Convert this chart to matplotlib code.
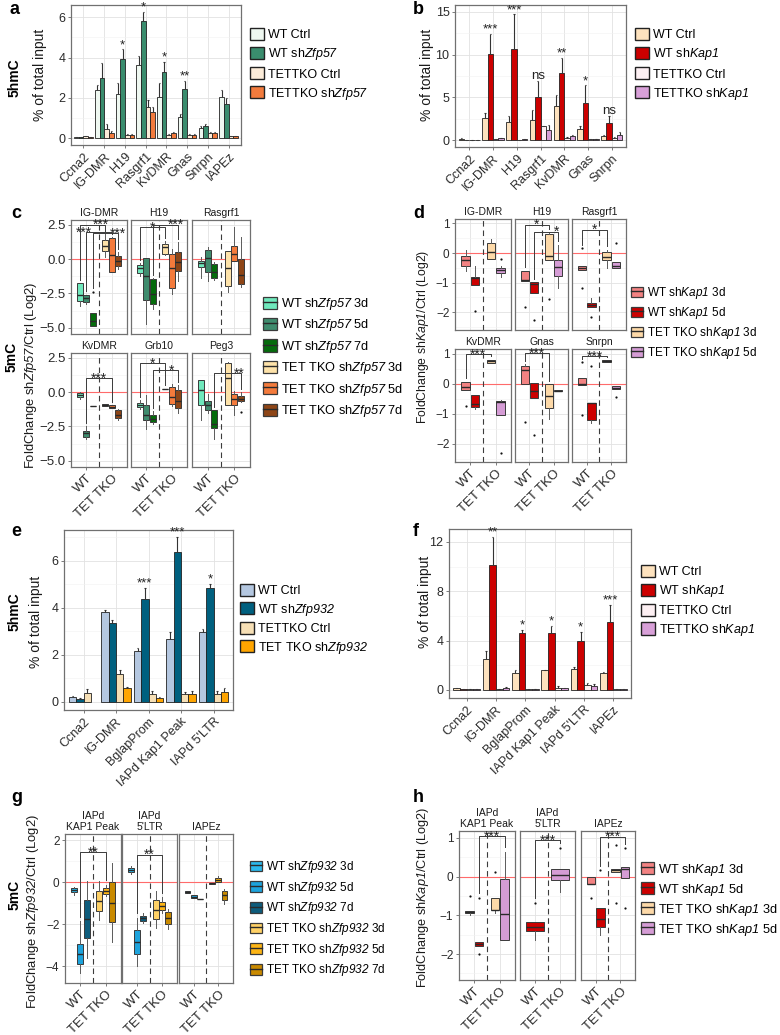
import numpy as np
import matplotlib
matplotlib.use("Agg")
import matplotlib.pyplot as plt
from matplotlib.patches import Patch
from matplotlib.lines import Line2D
from matplotlib.ticker import MultipleLocator, NullLocator

plt.rcParams['font.family'] = ['Liberation Sans', 'DejaVu Sans']
plt.rcParams['mathtext.fontset'] = 'custom'
plt.rcParams['mathtext.rm'] = 'Liberation Sans'
plt.rcParams['mathtext.it'] = 'Liberation Sans:italic'
plt.rcParams['mathtext.sf'] = 'Liberation Sans:italic'
plt.rcParams['mathtext.bf'] = 'Liberation Sans:bold'

# ======================= DATA =======================
# ---- panel a (5hmC, Zfp57) ----
a_cats = ["Ccna2", "IG-DMR", "H19", "Rasgrf1", "KvDMR", "Gnas", "Snrpn", "IAPEz"]
a_labels = ["WT Ctrl", r"WT sh$\mathsf{Zfp57}$", "TETTKO Ctrl", r"TETTKO sh$\mathsf{Zfp57}$"]
a_wt_ctrl = [0.05, 2.40, 2.20, 3.65, 2.05, 1.05, 0.50, 2.05]
a_wt_sh = [0.05, 3.00, 3.95, 5.80, 3.30, 2.45, 0.60, 1.70]
a_tko_ctrl = [0.10, 0.45, 0.15, 1.55, 0.15, 0.15, 0.25, 0.10]
a_tko_sh = [0.05, 0.25, 0.15, 1.30, 0.25, 0.15, 0.25, 0.10]
a_err_wt_ctrl = [0.02, 0.25, 0.55, 0.45, 0.70, 0.15, 0.10, 0.35]
a_err_wt_sh = [0.02, 0.75, 0.45, 0.45, 0.50, 0.40, 0.10, 0.30]
a_err_tko_ctrl = [0.02, 0.25, 0.05, 0.35, 0.05, 0.05, 0.05, 0.02]
a_err_tko_sh = [0.02, 0.10, 0.05, 0.25, 0.05, 0.05, 0.05, 0.03]
a_stars = ["", "", "*", "*", "*", "**", "", ""]

# ---- panel b (5hmC, Kap1) ----
b_cats = ["Ccna2", "IG-DMR", "H19", "Rasgrf1", "KvDMR", "Gnas", "Snrpn"]
b_labels = ["WT Ctrl", r"WT sh$\mathsf{Kap1}$", "TETTKO Ctrl", r"TETTKO sh$\mathsf{Kap1}$"]
b_wt_ctrl = [0.15, 2.60, 2.10, 2.35, 3.95, 1.30, 0.45]
b_wt_sh = [0.05, 10.10, 10.70, 5.05, 7.80, 4.35, 2.05]
b_tko_ctrl = [0.05, 0.10, 0.05, 1.60, 0.25, 0.10, 0.30]
b_tko_sh = [0.05, 0.20, 0.10, 1.15, 0.45, 0.10, 0.60]
b_err_wt_ctrl = [0.05, 0.55, 0.70, 1.20, 1.30, 0.35, 0.20]
b_err_wt_sh = [0.02, 2.35, 4.00, 1.90, 1.80, 2.05, 0.80]
b_err_tko_ctrl = [0.02, 0.02, 0.02, 0.10, 0.10, 0.02, 0.10]
b_err_tko_sh = [0.02, 0.05, 0.02, 0.60, 0.15, 0.05, 0.40]
b_stars = ["", "***", "***", "ns", "**", "*", "ns"]

# ---- panel e (5hmC, Zfp932) ----
e_cats = ["Ccna2", "IG-DMR", "BglapProm", "IAPd Kap1 Peak", "IAPd 5'LTR"]
e_labels = ["WT Ctrl", r"WT sh$\mathsf{Zfp932}$", "TETTKO Ctrl", r"TET TKO sh$\mathsf{Zfp932}$"]
e_wt_ctrl = [0.20, 3.82, 2.15, 2.65, 2.95]
e_wt_sh = [0.12, 3.35, 4.35, 6.35, 4.82]
e_tko_ctrl = [0.38, 1.20, 0.32, 0.32, 0.35]
e_tko_sh = [np.nan, 0.60, 0.18, 0.35, 0.42]
e_err_wt_ctrl = [0.03, 0.10, 0.15, 0.30, 0.15]
e_err_wt_sh = [0.02, 0.12, 0.50, 0.65, 0.18]
e_err_tko_ctrl = [0.18, 0.15, 0.12, 0.10, 0.10]
e_err_tko_sh = [np.nan, 0.03, 0.03, 0.12, 0.15]
e_stars = ["", "", "***", "***", "*"]

# ---- panel f (5hmC, Kap1) ----
f_cats = ["Ccna2", "IG-DMR", "BglapProm", "IAPd Kap1 Peak", "IAPd 5'LTR", "IAPEz"]
f_labels = b_labels
f_wt_ctrl = [0.15, 2.55, 1.35, 1.60, 1.70, 1.35]
f_wt_sh = [0.10, 10.10, 4.65, 4.65, 4.00, 5.50]
f_tko_ctrl = [0.05, 0.10, 0.05, 0.20, 0.40, 0.05]
f_tko_sh = [0.05, 0.20, 0.05, 0.15, 0.35, 0.05]
f_err_wt_ctrl = [0.05, 0.60, 0.30, 0.02, 0.15, 0.10]
f_err_wt_sh = [0.02, 2.30, 0.20, 0.55, 0.70, 1.40]
f_err_tko_ctrl = [0.02, 0.02, 0.02, 0.10, 0.20, 0.02]
f_err_tko_sh = [0.02, 0.05, 0.02, 0.02, 0.10, 0.02]
f_stars = ["", "**", "*", "*", "*", "***"]

# ---- panel c (5mC boxplots, Zfp57) ; groups: WT 3d,5d,7d, TKO 3d,5d,7d ----
c_facets = ["IG-DMR", "H19", "Rasgrf1", "KvDMR", "Grb10", "Peg3"]
c_labels = [r"WT sh$\mathsf{Zfp57}$ 3d", r"WT sh$\mathsf{Zfp57}$ 5d", r"WT sh$\mathsf{Zfp57}$ 7d",
            r"TET TKO sh$\mathsf{Zfp57}$ 3d", r"TET TKO sh$\mathsf{Zfp57}$ 5d", r"TET TKO sh$\mathsf{Zfp57}$ 7d"]
c_q1 = [[-3.05, -3.10, -4.88, 0.61, -0.90, -0.49],
        [-1.02, -2.97, -3.29, 0.41, -2.07, -0.85],
        [-0.56, -0.93, -1.34, -1.95, -0.12, -1.83],
        [-0.37, -3.23, -1.00, -1.00, -1.14, -1.87],
        [-1.09, -2.01, -2.18, 0.22, -0.85, -1.14],
        [-0.97, -1.29, -2.60, -0.97, -0.90, -0.68]]
c_med = [[-2.63, -2.80, -4.50, 0.93, 0.32, -0.12],
         [-0.68, -1.22, -2.56, 0.85, -0.66, -0.24],
         [-0.29, 0.05, -0.93, -0.68, 0.37, -1.17],
         [-0.19, -3.00, -1.00, -0.90, -1.05, -1.63],
         [-0.92, -1.63, -1.94, 0.24, -0.36, -0.66],
         [0.12, -0.92, -2.30, 1.04, -0.49, -0.49]]
c_q3 = [[-1.75, -2.63, -3.95, 1.39, 1.54, 0.20],
        [-0.41, 0.05, -1.46, 1.10, 0.37, 0.54],
        [-0.12, 0.66, -0.32, 0.56, 0.98, 0.00],
        [-0.07, -2.80, -1.00, -0.85, -0.97, -1.33],
        [-0.80, -0.97, -1.70, 0.26, 0.41, 0.12],
        [0.85, -0.61, -1.33, 2.11, -0.17, -0.27]]
c_lo = [[-3.40, -3.30, -4.88, 0.12, -0.90, -0.73],
        [-1.20, -4.75, -3.60, 0.30, -2.56, -1.59],
        [-1.34, -1.59, -1.50, -2.39, -0.12, -2.00],
        [-0.50, -3.40, -1.00, -1.00, -1.14, -2.00],
        [-1.20, -2.67, -2.30, 0.22, -1.00, -1.50],
        [-2.06, -1.50, -3.40, -0.97, -1.70, -0.70]]
c_hi = [[-1.75, -2.60, -3.95, 1.83, 1.60, 0.49],
        [-0.30, 0.05, -1.40, 1.30, 0.73, 1.22],
        [0.17, 0.85, -0.20, 0.56, 2.32, 1.59],
        [0.00, -2.50, -1.00, -0.85, -0.97, -1.20],
        [-0.60, -0.24, -1.40, 0.26, 0.60, 0.50],
        [0.85, -0.17, -1.33, 2.20, 0.10, 0.00]]
c_outliers = [(0, 2, -2.37), (5, 5, -1.46)]
# (facet, group from, group to, height, label, label position along bracket)
c_brackets = [(0, 0, 3, 2.50, "***", 0.82), (0, 1, 4, 1.98, "***", -0.1), (0, 2, 5, 1.90, "***", 1.0),
              (1, 0, 3, 2.33, "*", 0.5), (1, 2, 5, 2.50, "***", 0.9), (3, 1, 4, 1.04, "***", 0.5),
              (4, 0, 3, 2.10, "*", 0.5), (4, 2, 5, 1.60, "*", 0.75), (5, 2, 5, 1.40, "**", 0.95)]

# ---- panel d (5mC boxplots, Kap1) ; groups: WT 3d,5d, TKO 3d,5d ----
d_facets = ["IG-DMR", "H19", "Rasgrf1", "KvDMR", "Gnas", "Snrpn"]
d_labels = [r"WT sh$\mathsf{Kap1}$ 3d", r"WT sh$\mathsf{Kap1}$ 5d",
            r"TET TKO sh$\mathsf{Kap1}$ 3d", r"TET TKO sh$\mathsf{Kap1}$ 5d"]
d_q1 = [[-0.43, -1.08, -0.20, -0.68], [-0.94, -1.34, -0.23, -0.76], [-0.57, -1.83, -0.25, -0.51],
        [-0.22, -0.78, 0.68, -1.04], [-0.02, -0.48, -0.82, -0.25], [-0.05, -1.21, 0.73, -0.19]]
d_med = [[-0.25, -0.85, 0.03, -0.57], [-0.91, -1.05, -0.09, -0.48], [-0.51, -1.76, -0.14, -0.43],
         [-0.11, -0.67, 0.75, -0.60], [0.46, -0.23, -0.42, -0.23], [-0.02, -0.65, 0.75, -0.14]]
d_q3 = [[-0.09, -0.82, 0.34, -0.49], [-0.60, -0.99, 0.65, -0.23], [-0.45, -1.70, 0.02, -0.31],
        [0.06, -0.36, 0.80, -0.59], [0.60, 0.03, -0.02, -0.21], [0.20, -0.65, 0.77, -0.08]]
d_lo = [[-0.62, -1.08, -0.20, -0.80], [-0.94, -1.34, -0.23, -1.19], [-0.57, -1.83, -0.51, -0.51],
        [-0.22, -0.85, 0.68, -1.04], [-0.02, -0.48, -1.16, -0.25], [-0.05, -1.30, 0.73, -0.19]]
d_hi = [[0.11, -0.45, 0.49, -0.45], [-0.60, -0.99, 0.70, 0.28], [-0.45, -1.53, 0.11, -0.31],
        [0.06, -0.36, 0.80, -0.55], [0.65, 0.03, -0.02, -0.21], [0.20, -0.65, 0.77, -0.08]]
d_outliers = [(0, 1, -1.96), (0, 3, -0.19), (1, 0, -1.81), (1, 1, -2.26), (1, 2, -1.56),
              (2, 0, 0.16), (2, 0, -1.19), (2, 1, -2.15), (2, 3, 0.34), (3, 0, -0.74), (3, 3, -2.29),
              (4, 0, -1.27), (4, 1, -1.69), (5, 0, 0.71), (5, 0, -1.04), (5, 1, 0.57), (5, 3, -0.44)]
d_brackets = [(1, 0, 2, 0.96, "*", 0.5), (1, 1, 3, 0.72, "*", 0.92), (2, 0, 2, 0.79, "*", 0.5),
              (3, 0, 2, 0.97, "***", 0.5), (4, 0, 2, 1.02, "***", 0.5), (5, 0, 2, 0.91, "***", 0.5)]

# ---- panel g (5mC boxplots, Zfp932) ----
g_facets = ["IAPd\nKAP1 Peak", "IAPd\n5'LTR", "IAPEz"]
g_labels = [r"WT sh$\mathsf{Zfp932}$ 3d", r"WT sh$\mathsf{Zfp932}$ 5d", r"WT sh$\mathsf{Zfp932}$ 7d",
            r"TET TKO sh$\mathsf{Zfp932}$ 3d", r"TET TKO sh$\mathsf{Zfp932}$ 5d", r"TET TKO sh$\mathsf{Zfp932}$ 7d"]
g_q1 = [[-0.48, -3.89, -2.67, -1.37, -0.57, -1.90],
        [0.48, -3.43, -1.83, -1.76, -1.32, -2.00],
        [-0.51, -0.76, -0.80, -0.08, 0.00, -0.84]]
g_med = [[-0.37, -3.41, -1.76, -0.89, -0.41, -0.97],
         [0.59, -2.87, -1.71, -1.32, -1.13, -1.71],
         [-0.46, -0.70, -0.79, -0.06, 0.11, -0.63]]
g_q3 = [[-0.29, -2.95, -0.84, -0.44, -0.29, 0.00],
        [0.67, -2.27, -1.60, -0.87, -0.95, -1.43],
        [-0.41, -0.63, -0.78, -0.04, 0.19, -0.44]]
g_lo = [[-0.60, -4.33, -3.59, -1.79, -0.68, -2.86],
        [0.40, -3.97, -1.95, -2.19, -1.48, -2.25],
        [-0.51, -0.76, -0.80, -0.08, 0.00, -1.05]]
g_hi = [[-0.25, -1.87, 0.06, 0.03, -0.13, 0.90],
        [0.75, -1.70, -1.45, -0.41, -0.73, -1.30],
        [-0.41, -0.63, -0.78, -0.04, 0.27, -0.35]]
g_outliers = []
g_brackets = [(0, 1, 4, 1.43, "**", 0.5), (1, 1, 4, 1.30, "**", 0.5)]

# ---- panel h (5mC boxplots, Kap1) ----
h_facets = ["IAPd\nKAP1 Peak", "IAPd\n5'LTR", "IAPEz"]
h_labels = d_labels
h_q1 = [[-0.94, -1.80, -0.87, -1.63], [None, -1.40, None, -0.09], [-0.20, -1.31, 0.11, -0.03]]
h_med = [[-0.92, -1.74, -0.87, -0.97], [None, -1.29, None, 0.04], [-0.20, -1.09, 0.17, 0.21]]
h_q3 = [[-0.88, -1.70, -0.56, -0.06], [None, -1.16, None, 0.19], [0.00, -0.80, 0.21, 0.26]]
h_lo = [[-1.00, -1.80, -0.95, -1.63], [None, -1.63, None, -0.39], [-0.20, -1.50, 0.11, -0.03]]
h_hi = [[-0.88, -1.70, -0.56, 0.64], [None, -1.16, None, 0.19], [0.00, -0.80, 0.21, 0.26]]
h_outliers = [(0, 0, -0.51), (0, 1, -0.54), (0, 1, -2.00), (0, 2, 0.11), (1, 1, -0.67), (1, 3, 0.75),
              (2, 0, -0.56), (2, 1, 0.17), (2, 2, 0.83), (2, 2, -0.69), (2, 3, 0.73), (2, 3, -0.80)]
h_brackets = [(0, 1, 3, 1.05, "***", 0.5), (1, 1, 3, 0.94, "***", 0.5), (2, 1, 3, 1.03, "***", 0.5)]

# ======================= STYLE =======================
a_colors = ['#EFF8F1', '#3A8D6E', '#FCECD9', '#F27B3D']
b_colors = ['#FDE2BE', '#CC0000', '#FDF0F3', '#D8A0D8']
c_colors = ['#6FE8BC', '#3F8C6E', '#056B0C', '#FDE2A9', '#F47B3C', '#8E4516']
d_colors = ['#F28282', '#CC0000', '#FDD9A8', '#D59CD5']
e_colors = ['#B4C7E0', '#00607F', '#F6DFB5', '#FFA500']
g_colors = ['#2BB8EC', '#1DA3DC', '#0E5C7C', '#FFD166', '#FDB515', '#C98A00']

W, H = 780, 1035
fig = plt.figure(figsize=(W / 100, H / 100), dpi=100)
fig.patch.set_facecolor('white')


def add_ax(x0, y0, x1, y1):
    return fig.add_axes([x0 / W, 1 - y1 / H, (x1 - x0) / W, (y1 - y0) / H])


def style_ax(ax, ylim, major, minor, xlim, yfs):
    ax.set_xlim(*xlim)
    ax.set_ylim(*ylim)
    ax.yaxis.set_major_locator(MultipleLocator(major))
    ax.yaxis.set_minor_locator(MultipleLocator(minor))
    ax.xaxis.set_minor_locator(NullLocator())
    ax.set_axisbelow(True)
    ax.grid(which='major', color='#E2E2E2', lw=0.6)
    ax.grid(which='minor', axis='y', color='#F1F1F1', lw=0.4)
    for s in ax.spines.values():
        s.set_color('#707070')
        s.set_linewidth(0.9)
    ax.tick_params(which='major', length=2.5, width=0.6, color='#666666',
                   labelsize=yfs, labelcolor='#2A2A2A', pad=1.5)
    ax.tick_params(which='minor', length=0)


def bar_panel(coords, cats, series, errs, colors, stars, ylim, major, minor):
    ax = add_ax(*coords)
    n = len(series)
    w = 0.9 / n
    x = np.arange(1, len(cats) + 1)
    for i in range(n):
        v = np.asarray(series[i], float)
        e = np.asarray(errs[i], float)
        pos = x + (i - (n - 1) / 2) * w
        ax.bar(pos, v, width=w, color=colors[i], edgecolor='#222222', linewidth=0.6, zorder=3)
        ax.vlines(pos, v, v + e, color='#333333', lw=0.8, zorder=4)
        ax.hlines(v + e, pos - w * 0.12, pos + w * 0.12, color='#333333', lw=0.8, zorder=4)
    top = np.asarray(series[1], float) + np.asarray(errs[1], float)
    pos1 = x + (1 - (n - 1) / 2) * w
    for p, t, s in zip(pos1, top, stars):
        if s:
            ax.annotate(s, (p, t), xytext=(0, 1.0), textcoords='offset points', ha='center',
                        va='baseline', fontsize=9.5, color='#222222', annotation_clip=False)
    style_ax(ax, ylim, major, minor, (0.4, len(cats) + 0.6), 9)
    ax.set_xticks(x)
    ax.set_xticklabels(cats, rotation=45, ha='right', rotation_mode='anchor', fontsize=9)
    return ax


def box_panel(cols, rows, facets, q1, med, q3, lo, hi, outl, colors, ylim, major, minor,
              brackets, yfs, xfs):
    ncol = len(cols)
    ng = len(colors)
    nper = ng // 2
    yr = ylim[1] - ylim[0]
    nrows = (len(facets) - 1) // ncol + 1
    for fi, name in enumerate(facets):
        r, c = divmod(fi, ncol)
        ax = add_ax(cols[c][0], rows[r][0], cols[c][1], rows[r][1])
        style_ax(ax, ylim, major, minor, (0.4, 2.6), yfs)
        ax.axhline(0, color='#FF6B6B', lw=0.8, zorder=1)
        ax.axvline(1.5, color='#3C3C3C', lw=0.8, ls=(0, (5, 3.5)), zorder=1)
        present = [q1[fi][g] is not None for g in range(ng)]
        pos = [None] * ng
        wid = [None] * ng
        for side in range(2):
            idx = [g for g in range(side * nper, (side + 1) * nper) if present[g]]
            dw = 0.75 / len(idx)
            for j, g in enumerate(idx):
                pos[g] = side + 1 + (j - (len(idx) - 1) / 2) * dw
                wid[g] = dw * 0.92
        tops = {}
        for g in range(ng):
            if not present[g]:
                continue
            fl = [v for (f, gg, v) in outl if f == fi and gg == g]
            st = dict(med=med[fi][g], q1=q1[fi][g], q3=q3[fi][g],
                      whislo=lo[fi][g], whishi=hi[fi][g], fliers=fl)
            ax.bxp([st], positions=[pos[g]], widths=[wid[g]], patch_artist=True,
                   showcaps=False, manage_ticks=False,
                   boxprops=dict(facecolor=colors[g], edgecolor='#3A3A3A', linewidth=0.7),
                   medianprops=dict(color='#2A2A2A', linewidth=1.0),
                   whiskerprops=dict(color='#5A5A5A', linewidth=0.7),
                   flierprops=dict(marker='o', markersize=1.6, markerfacecolor='#111111',
                                   markeredgecolor='none'))
            tops[g] = max([hi[fi][g], q3[fi][g]] + fl)
        for (bf, g1, g2, y, lab, frac) in brackets:
            if bf != fi:
                continue
            x1, x2 = pos[g1], pos[g2]
            y1 = tops[g1] + 0.03 * yr
            y2 = tops[g2] + 0.03 * yr
            ax.plot([x1, x1, x2, x2], [y1, y, y, y2], color='#3A3A3A', lw=0.7, zorder=5, clip_on=False)
            ax.annotate(lab, (x1 + frac * (x2 - x1), y), xytext=(0, -3.2), textcoords='offset points',
                        ha='center', va='baseline', fontsize=10, color='#222222', annotation_clip=False)
        ax.set_title(name, fontsize=7.5, pad=3, color='#1A1A1A', linespacing=1.15)
        ax.set_xticks([1, 2])
        if r == nrows - 1:
            ax.set_xticklabels(["WT", "TET TKO"], rotation=45, ha='right',
                               rotation_mode='anchor', fontsize=xfs)
        else:
            ax.tick_params(axis='x', length=0, labelbottom=False)
        if c != 0:
            ax.tick_params(axis='y', which='major', length=0, labelleft=False)


def add_legend(handles, labels, x_px, y_first_center, fs, row_px, sw_px):
    fs_px = fs * 100 / 72
    leg = fig.legend(handles, labels, loc='upper left',
                     bbox_to_anchor=(x_px / W, 1 - (y_first_center - sw_px / 2) / H),
                     frameon=False, fontsize=fs, borderpad=0, borderaxespad=0,
                     handlelength=sw_px / fs_px, handleheight=sw_px / fs_px,
                     handletextpad=0.35, labelspacing=(row_px - sw_px) / fs_px)
    return leg


def bar_handles(colors):
    return [Patch(facecolor=c, edgecolor='#222222', linewidth=1.0) for c in colors]


def box_handles(colors):
    return [(Patch(facecolor=c, edgecolor='#3A3A3A', linewidth=0.9),
             Line2D([], [], color='#2A2A2A', lw=1.0)) for c in colors]


def ftext(x, y, s, **kw):
    fig.text(x / W, 1 - y / H, s, **kw)


# ======================= DRAW =======================
# a
bar_panel((71, 5, 241, 145), a_cats,
          [a_wt_ctrl, a_wt_sh, a_tko_ctrl, a_tko_sh],
          [a_err_wt_ctrl, a_err_wt_sh, a_err_tko_ctrl, a_err_tko_sh],
          a_colors, a_stars, (-0.33, 6.6), 2, 1)
add_legend(bar_handles(a_colors), a_labels, 250, 35, 9, 19, 14)
# b
bar_panel((455, 5, 626, 147), b_cats,
          [b_wt_ctrl, b_wt_sh, b_tko_ctrl, b_tko_sh],
          [b_err_wt_ctrl, b_err_wt_sh, b_err_tko_ctrl, b_err_tko_sh],
          b_colors, b_stars, (-0.8, 15.8), 5, 2.5)
add_legend(bar_handles(b_colors), b_labels, 635, 35, 9, 19, 14)
# e
bar_panel((64, 530, 233, 710), e_cats,
          [e_wt_ctrl, e_wt_sh, e_tko_ctrl, e_tko_sh],
          [e_err_wt_ctrl, e_err_wt_sh, e_err_tko_ctrl, e_err_tko_sh],
          e_colors, e_stars, (-0.35, 7.3), 2, 1)
add_legend(bar_handles(e_colors), e_labels, 240, 591, 9, 18.3, 14)
# f
bar_panel((449, 529, 631, 698), f_cats,
          [f_wt_ctrl, f_wt_sh, f_tko_ctrl, f_tko_sh],
          [f_err_wt_ctrl, f_err_wt_sh, f_err_tko_ctrl, f_err_tko_sh],
          b_colors, f_stars, (-0.65, 13.05), 4, 2)
add_legend(bar_handles(b_colors), f_labels, 641, 572, 9, 18.7, 14)

# c
box_panel([(71, 127), (131, 187), (192, 250)], [(220, 334), (353, 467)], c_facets,
          c_q1, c_med, c_q3, c_lo, c_hi, c_outliers, c_colors, (-5.45, 2.85), 2.5, 1.25,
          c_brackets, 9.5, 9.5)
add_legend(box_handles(c_colors), c_labels, 263, 303, 9.2, 19.4, 14)
# d
box_panel([(455, 511), (515, 568), (572, 626)], [(219, 330), (349, 462)], d_facets,
          d_q1, d_med, d_q3, d_lo, d_hi, d_outliers, d_colors, (-2.6, 1.15), 1, 0.5,
          d_brackets, 8.5, 9.5)
add_legend(box_handles(d_colors), d_labels, 631, 291, 8.5, 16, 12)
# g
box_panel([(65, 121), (122, 177), (179, 233)], [(834, 983)], g_facets,
          g_q1, g_med, g_q3, g_lo, g_hi, g_outliers, g_colors, (-4.8, 2.29), 2, 1,
          g_brackets, 8.5, 9.5)
add_legend(box_handles(g_colors), g_labels, 250, 865, 8.5, 16.7, 12)
# h
box_panel([(459, 515), (520, 575), (581, 635)], [(831, 980)], h_facets,
          h_q1, h_med, h_q3, h_lo, h_hi, h_outliers, d_colors, (-2.67, 1.18), 1, 0.5,
          h_brackets, 8.5, 9.5)
add_legend(box_handles(d_colors), h_labels, 641, 868, 9.2, 17, 13)

# y-axis titles
ylab_kw = dict(rotation=90, ha='center', va='center', color='#1A1A1A')
ftext(40, 75, "% of total input", fontsize=10, **ylab_kw)
ftext(427, 75, "% of total input", fontsize=10, **ylab_kw)
ftext(36, 622, "% of total input", fontsize=10, **ylab_kw)
ftext(425, 602, "% of total input", fontsize=10, **ylab_kw)
ftext(31, 375, r"FoldChange sh$\mathsf{Zfp57}$/Ctrl (Log2)", fontsize=9.4, **ylab_kw)
ftext(423, 337, r"FoldChange sh$\mathsf{Kap1}$/Ctrl (Log2)", fontsize=8.8, **ylab_kw)
ftext(33, 912, r"FoldChange sh$\mathsf{Zfp932}$/Ctrl (Log2)", fontsize=9.4, **ylab_kw)
ftext(423, 897, r"FoldChange sh$\mathsf{Kap1}$/Ctrl (Log2)", fontsize=9.2, **ylab_kw)

# row labels
row_kw = dict(rotation=90, ha='center', va='center', fontsize=10, fontweight='bold')
ftext(15, 78, "5hmC", **row_kw)
ftext(12, 357, "5mC", **row_kw)
ftext(15, 612, "5hmC", **row_kw)
ftext(15, 895, "5mC", **row_kw)

# panel letters
let_kw = dict(ha='left', va='center', fontsize=13, fontweight='bold')
for s, x, y in [("a", 10, 10), ("b", 413, 10), ("c", 11, 213), ("d", 413, 213),
                ("e", 11, 532), ("f", 413, 531), ("g", 11, 798), ("h", 413, 798)]:
    ftext(x, y, s, **let_kw)

fig.savefig("out.png", dpi=100, facecolor='white')
